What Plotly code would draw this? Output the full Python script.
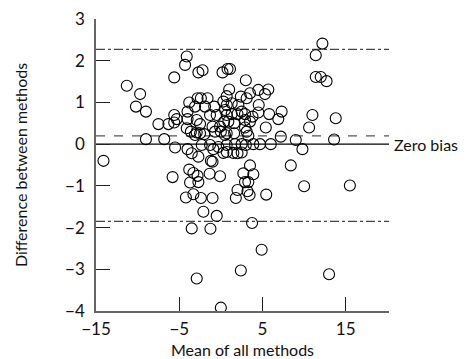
import plotly.graph_objects as go

# Bland-Altman style data: (mean of all methods, difference between methods)
mean_vals = [
    12.2, 11.4, -4.1, -4.3, -5.6, -2.7, -2.2, 0.2, 0.8, 1.1, 3.0, 11.4, 12.0, 12.7, -11.3,
    -9.7, -3.8, -2.8, -2.4, -1.6, 1.0, 0.7, 2.4, 3.1, 3.5, 4.5, 5.3, 5.7, 0.3, 1.3, 0.7, 2.1, 4.55, -10.2, -3.1, -1.9, -0.8,
    -9.0, -5.6, -5.3, -5.6, -4.0, -4.0, -2.9, -1.3, -0.5, 0.5, 0.7, 1.3, 2.0, 2.5, 2.9, 3.8, 4.5, 5.8, 6.9, 7.3, 11.0, 13.8, 0.4, 0.9, 1.6, 2.9, 3.5,
    -7.5, -6.3, -2.5, -4.1, -1.0, -0.1, 2.9, 5.4, 10.6,
    -9.0, -6.8, -3.6, -2.9, -3.1, -2.5, -2.0, -0.7, 0.0, 0.5, 0.7, 1.6, 3.1, 3.3, 7.2, 9.0, 13.6,
    -5.5, -2.3, -1.3, -0.3, 0.7, 1.7, 2.5, 3.0, 3.9, 4.7, 6.0,
    -4.0, -3.5, -2.7, -0.9, 0.3, 0.7, 1.5, 2.0, 2.5, -1.2, -1.0, 3.5, 8.4, 9.8,
    -5.8, -3.8, -3.3, -2.8, -1.35, -0.1, 2.7, 3.9,
    -3.7, -2.7, 2.9, 3.3, 2.0, 3.2, -4.2, -3.3, -2.4, -1.0, 1.8, 3.45, 5.45, 10.0, 15.5,
    -2.1, -0.5, -3.5, -1.25, 3.75, 4.9, -2.9, 2.4, 0.0, 13.0, -14.1,
]
diff_vals = [
    2.41, 2.13, 2.10, 1.90, 1.60, 1.72, 1.77, 1.72, 1.80, 1.80, 1.53, 1.61, 1.61, 1.51, 1.40,
    1.20, 1.00, 1.10, 1.10, 1.10, 1.31, 1.15, 1.14, 1.10, 1.22, 1.30, 1.20, 1.31, 1.02, 0.98, 0.94, 0.94, 0.94, 0.90, 0.90, 0.90, 0.90,
    0.78, 0.70, 0.60, 0.52, 0.78, 0.60, 0.58, 0.70, 0.70, 0.82, 0.70, 0.72, 0.72, 0.78, 0.72, 0.66, 0.76, 0.72, 0.60, 0.78, 0.70, 0.62, 0.54, 0.54, 0.50, 0.58, 0.54,
    0.48, 0.48, 0.48, 0.38, 0.42, 0.42, 0.40, 0.40, 0.40,
    0.12, 0.12, 0.30, 0.28, 0.22, 0.26, 0.24, 0.30, 0.30, 0.22, 0.26, 0.26, 0.30, 0.20, 0.18, 0.10, 0.11,
    -0.08, -0.02, -0.02, -0.07, -0.02, 0.00, 0.00, -0.02, 0.00, 0.00, 0.00,
    -0.12, -0.22, -0.30, -0.12, -0.21, -0.19, -0.21, -0.22, -0.20, -0.40, -0.42, -0.51, -0.51, -0.12,
    -0.79, -0.61, -0.69, -0.76, -0.71, -0.77, -0.70, -0.72,
    -0.92, -0.91, -0.91, -0.91, -1.10, -1.13, -1.28, -1.20, -1.29, -1.29, -1.29, -1.22, -1.21, -1.01, -0.99,
    -1.62, -1.72, -2.02, -2.03, -1.89, -2.53, -3.22, -3.03, -3.92, -3.12, -0.40,
]

mean_bias = 0.2
upper_loa = 2.27
lower_loa = -1.85
x_range = [-15, 20.2]
y_range = [-4, 3]
x_ticks = [-15, -5, 5, 15]
y_ticks = [-4, -3, -2, -1, 0, 1, 2, 3]

FONT = "Lato, 'DejaVu Sans', sans-serif"

fig = go.Figure()

# reference lines
def hline(y, dash, color, width):
    fig.add_trace(go.Scatter(x=x_range, y=[y, y], mode="lines",
                             line=dict(color=color, dash=dash, width=width),
                             hoverinfo="skip", showlegend=False))

hline(upper_loa, "dashdot", "#444444", 1.2)
hline(lower_loa, "dashdot", "#444444", 1.2)
hline(mean_bias, "dash", "#555555", 1.3)
hline(0, "solid", "#000000", 1.2)

fig.add_trace(go.Scatter(
    x=mean_vals, y=diff_vals, mode="markers",
    marker=dict(symbol="circle-open", size=11, color="#000000", line=dict(width=1.1)),
    showlegend=False,
))

fig.add_annotation(x=x_range[1], y=0, text="Zero bias", showarrow=False,
                   xanchor="left", yanchor="middle", xshift=3,
                   font=dict(family=FONT, size=16, color="#111111"))

fig.update_layout(
    width=469, height=359,
    margin=dict(l=96, r=80, t=19, b=48, autoexpand=False),
    paper_bgcolor="white", plot_bgcolor="white",
    font=dict(family=FONT, size=17, color="#111111"),
    xaxis=dict(range=x_range, tickvals=x_ticks, ticks="inside", ticklen=14,
               tickcolor="#222222", showline=True, linecolor="#666666", linewidth=1.5,
               showgrid=False, zeroline=False, ticklabelstandoff=2, automargin=False,
               title=dict(text="Mean of all methods", font=dict(size=16), standoff=14)),
    yaxis=dict(range=y_range, tickvals=y_ticks, ticks="inside", ticklen=14,
               tickcolor="#222222", showline=True, linecolor="#666666", linewidth=1.5,
               showgrid=False, zeroline=False, ticklabelstandoff=6, automargin=False,
               title=dict(text="Difference between methods", font=dict(size=16), standoff=34)),
)

fig.write_html("out.html")
